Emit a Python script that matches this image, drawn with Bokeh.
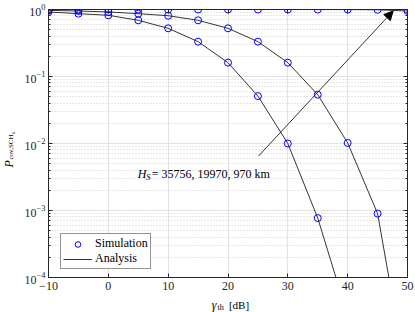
import math
from bokeh.plotting import figure
from bokeh.layouts import row, column
from bokeh.models import (LogAxis, LinearAxis, Label, Arrow, NormalHead, Legend,
                          LegendItem, Range1d, FixedTicker, CustomJSTickFormatter)
from bokeh.core.properties import value
from bokeh.embed import file_html
from bokeh.resources import INLINE

# ---------------- data ----------------
gamma_th = [-10, -5, 0, 5, 10, 15, 20, 25, 30, 35, 40, 45, 50]
# coverage probability, H_S = 970 km
p_cov_970 = [0.999, 0.999, 0.999, 0.999, 0.999, 0.999, 0.999, 0.999, 0.999,
             0.998, 0.997, 0.99, 0.95]
# H_S = 19970 km
p_cov_19970 = [0.97, 0.95, 0.918, 0.866, 0.808, 0.69, 0.524, 0.331, 0.161,
               0.0535, 0.0102, 9.0e-4, 2.7e-6]
# H_S = 35756 km
p_cov_35756 = [0.918, 0.866, 0.82, 0.69, 0.524, 0.331, 0.161, 0.051, 0.01,
               7.7e-4, 2.7e-5]
x_ticks = [-10, 0, 10, 20, 30, 40, 50]
annotation_text = " = 35756, 19970, 970 km"

FONT = "Liberation Serif"
AX = "#262626"
YW = 19  # width of the y-title strip

p = figure(width=415 - YW, height=295, output_backend="svg", toolbar_location=None,
           y_axis_type="log", x_range=Range1d(-10, 50), y_range=Range1d(1e-4, 1),
           min_border_left=48 - YW, min_border_right=8, min_border_top=9,
           min_border_bottom=18, background_fill_color="white",
           border_fill_color="white", outline_line_color=AX)

# grid
p.xgrid.grid_line_color = "#e2e2e2"
p.ygrid.grid_line_color = "#e2e2e2"
p.ygrid.minor_grid_line_color = "#d0d0d0"
p.ygrid.minor_grid_line_dash = "1 2"
p.xgrid.ticker = FixedTicker(ticks=x_ticks)

# axes
p.xaxis.ticker = FixedTicker(ticks=x_ticks)
for ax in (p.xaxis[0], p.yaxis[0]):
    ax.axis_line_color = AX
    ax.major_tick_line_color = AX
    ax.minor_tick_line_color = AX
    ax.major_tick_in = 4
    ax.major_tick_out = 0
    ax.minor_tick_in = 2
    ax.minor_tick_out = 0
    ax.major_label_text_font = FONT
    ax.major_label_text_font_size = "12px"
    ax.major_label_text_color = AX
p.xaxis.minor_tick_line_color = None
p.xaxis.major_label_standoff = 4
p.yaxis.major_label_standoff = 3

blank = CustomJSTickFormatter(code="return ''")
ra = LogAxis(ticker=p.yaxis[0].ticker, formatter=blank,
             axis_line_color=AX, major_tick_line_color=AX, minor_tick_line_color=AX,
             major_tick_in=4, major_tick_out=0, minor_tick_in=2, minor_tick_out=0,
             major_label_standoff=0)
p.add_layout(ra, "right")
ta = LinearAxis(ticker=FixedTicker(ticks=x_ticks), formatter=blank,
                axis_line_color=AX, major_tick_line_color=AX, minor_tick_line_color=None,
                major_tick_in=4, major_tick_out=0, major_label_standoff=0)
p.add_layout(ta, "above")

# analysis lines
n3 = len(p_cov_35756)
ana1 = p.line(gamma_th, p_cov_970, line_color="black", line_width=0.8)
p.line(gamma_th, p_cov_19970, line_color="black", line_width=0.8)
p.line(gamma_th[:n3], p_cov_35756, line_color="black", line_width=0.8)

# simulation markers
sim1 = p.scatter(gamma_th, p_cov_970, marker="circle", size=7, fill_color=None,
                 line_color="#0000ff", line_width=1)
p.scatter(gamma_th, p_cov_19970, marker="circle", size=7, fill_color=None,
          line_color="#0000ff", line_width=1)
p.scatter(gamma_th[:n3], p_cov_35756, marker="circle", size=7, fill_color=None,
          line_color="#0000ff", line_width=1)

# legend
legend = Legend(items=[LegendItem(label="Simulation", renderers=[sim1]),
                       LegendItem(label="Analysis", renderers=[ana1])],
                location=(12, 8), margin=0, padding=2, spacing=0,
                glyph_width=29, glyph_height=14, label_height=14, label_standoff=3,
                border_line_color=AX, border_line_width=0.6,
                background_fill_color="white", background_fill_alpha=1,
                label_text_font=FONT, label_text_font_size="12px",
                label_text_color="black")
p.add_layout(legend)

# arrow + annotation
p.add_layout(Arrow(x_start=25.1, y_start=0.0065, x_end=47.6, y_end=0.95,
                   line_color="black", line_width=0.8,
                   end=NormalHead(size=9, fill_color="black", line_color="black")))

ax0, ay0 = 4.9, 3.5e-3
p.add_layout(Label(x=ax0, y=ay0, text="H", text_font=FONT, text_font_style="italic",
                   text_font_size="12px", text_baseline="middle", text_align="left",
                   text_color="black"))
p.add_layout(Label(x=ax0, y=ay0, x_offset=8.5, y_offset=-3, text="S", text_font=FONT,
                   text_font_style="italic", text_font_size="8.5px",
                   text_baseline="middle", text_align="left", text_color="black"))
p.add_layout(Label(x=ax0, y=ay0, x_offset=14, text=annotation_text, text_font=FONT,
                   text_font_size="12px", text_baseline="middle", text_align="left",
                   text_color="black"))


# ---------- axis-title strips (plain SVG text with sub-scripts) ----------
def strip(w, h):
    f = figure(width=w, height=h, output_backend="svg", toolbar_location=None,
               x_range=Range1d(0, w), y_range=Range1d(0, h), min_border=0,
               x_axis_type=None, y_axis_type=None, outline_line_color=None,
               background_fill_color="white", border_fill_color="white")
    f.grid.visible = False
    return f


def put(f, x, y, text, size, style="normal", angle=0.0):
    f.text(x=[x], y=[y], text=[text], angle=angle, text_font=value(FONT),
           text_font_style=style, text_font_size=size, text_baseline="middle",
           text_align="left", text_color="black")


# y title: P_{cov,SCH_k}   (strip YW x 312, y measured from bottom)
ylab = strip(YW, 312)
put(ylab, 8, 312 - 167, "P", "12px", "italic", math.pi / 2)
put(ylab, 10.5, 312 - 159, "cov,SCH", "7px", "normal", math.pi / 2)
put(ylab, 12.5, 312 - 133.5, "k", "5px", "italic", math.pi / 2)

# x title: gamma_th [dB]   (strip below the main figure, page x = YW + x)
xlab = strip(415 - YW, 17)
put(xlab, 199 - YW, 312 - 304, "γ", "12px", "italic")
put(xlab, 205.5 - YW, 312 - 306.5, "th", "8px")
put(xlab, 218 - YW, 312 - 304, "[dB]", "11px")

layout = row(ylab, column(p, xlab, spacing=0), spacing=0)

open("out.html", "w").write(file_html(layout, INLINE))
